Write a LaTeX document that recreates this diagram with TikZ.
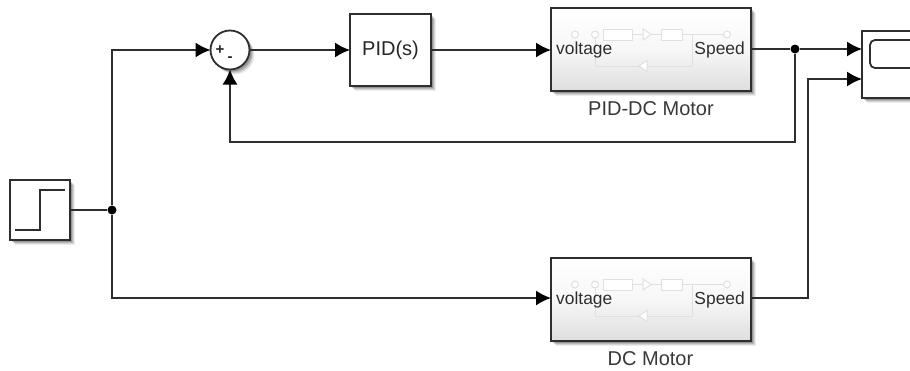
\documentclass[tikz,border=0pt]{standalone}
\usepackage{fontspec}
\setmainfont{Liberation Sans}
\usetikzlibrary{shadows,arrows.meta,calc}
\tikzset{
  x=1pt,y=-1pt,
  shad/.style={
    drop shadow={shadow xshift=5pt,shadow yshift=-5pt,opacity=0.07,fill=black},
    drop shadow={shadow xshift=4pt,shadow yshift=-4pt,opacity=0.10,fill=black},
    drop shadow={shadow xshift=3pt,shadow yshift=-3pt,opacity=0.14,fill=black},
    drop shadow={shadow xshift=2pt,shadow yshift=-2pt,opacity=0.18,fill=black}},
  blockbox/.style={draw=black!82,line width=1.8pt,fill=white,inner sep=0pt,outer sep=0pt,shad},
  motorbox/.style={blockbox,minimum width=200pt,minimum height=83pt,top color=white,bottom color=black!13,middle color=black!3},
  wire/.style={draw=black!82,line width=1.6pt},
  arr/.style={wire,-{Latex[length=15pt,width=15pt,black]}},
  dotj/.style={circle,fill=black,inner sep=0pt,minimum size=9pt},
  lbl/.style={font=\fontsize{17.4}{20}\selectfont,text=black!82,inner sep=0pt},
  caplbl/.style={font=\fontsize{20}{22}\selectfont,text=black!78,inner sep=0pt},
  ghost/.style={draw=black!12,line width=1pt},
  ghostfill/.style={ghost,fill=white}
}
\newcommand{\motorinner}[2]{%
  % #1 = left, #2 = top of the block
  \begin{scope}[shift={(#1,#2)}]
    \draw[ghost] (81,26.5) -- (92,26.5) (100,26.5) -- (110,26.5) (131,26.5) -- (173,26.5) (141,26.5) -- (141,58) -- (96,58) (88,58) -- (44,58) -- (44,30);
    \draw[ghostfill] (24,26.5) circle (3.5pt) (44,26.5) circle (3.5pt) (176,26.5) circle (3.5pt);
    \draw[ghostfill] (52,21) rectangle (81,32);
    \draw[ghostfill] (110,21) rectangle (131,32);
    \draw[ghostfill] (92,21) -- (100,26.5) -- (92,32) -- cycle;
    \draw[ghostfill] (88,58) -- (96,52.5) -- (96,63.5) -- cycle;
  \end{scope}}
\begin{document}
\begin{tikzpicture}
\useasboundingbox (0,0) rectangle (910,370);
% blocks
\node[blockbox,minimum size=60pt] (step) at (40,210) {};
\draw[draw=black!82,line width=1.8pt] (15,230) -- (40,230) -- (40,190) -- (65,190);
\node[blockbox,circle,minimum size=39pt] (sum) at (230,50) {};
\node[font=\bfseries\fontsize{15}{15}\selectfont,text=black!85,inner sep=0pt] at (220,50) {+};
\node[font=\bfseries\fontsize{15}{15}\selectfont,text=black!85,inner sep=0pt] at (230,59) {-};
\node[blockbox,minimum width=81pt,minimum height=72pt,caplbl] (pid) at (390.5,50) {\textcolor{black!85}{PID(s)}};
\node[motorbox] (m1) at (651,49.5) {};
\motorinner{551}{8}
\node[lbl,anchor=west] at (556,50) {voltage};
\node[lbl,anchor=east] at (745,50) {Speed};
\node[caplbl] at (651,109) {PID-DC Motor};
\node[motorbox] (m2) at (651,299.5) {};
\motorinner{551}{258}
\node[lbl,anchor=west] at (556,300) {voltage};
\node[lbl,anchor=east] at (745,300) {Speed};
\node[caplbl] at (650.5,359) {DC Motor};
\begin{scope}
\clip (0,0) rectangle (910,370);
\node[blockbox,minimum width=80pt,minimum height=67pt] (scope) at (902,64.5) {};
\draw[draw=black!82,line width=1.8pt,rounded corners=5pt] (925,40) -- (870,40) -- (870,68) -- (925,68);
\end{scope}
% junctions
\node[dotj] (j1) at (112,210) {};
\node[dotj] (j2) at (795,49) {};
\coordinate (c1) at (112,50);
\coordinate (c2) at (112,298);
\coordinate (c3) at (795,142);
\coordinate (c4) at (230,142);
\coordinate (c5) at (808,298);
\coordinate (c6) at (808,79);
\coordinate (s1) at (862,49);
\coordinate (s2) at (862,79);
\coordinate (m1in) at (551,50);
\coordinate (m2in) at (551,298);
\coordinate (m2out) at (751,298);
\coordinate (m1out) at (751,49);
% connectors
\draw[wire] (step.east) -- (j1);
\draw[arr] (j1) -- (c1) -- (sum.west);
\draw[arr] (j1) -- (c2) -- (m2in);
\draw[arr] (sum.east) -- (pid.west);
\draw[arr] (pid.east) -- (m1in);
\draw[wire] (m1out) -- (j2);
\draw[arr] (j2) -- (s1);
\draw[arr] (j2) -- (c3) -- (c4) -- (sum.south);
\draw[arr] (m2out) -- (c5) -- (c6) -- (s2);
\end{tikzpicture}
\end{document}
